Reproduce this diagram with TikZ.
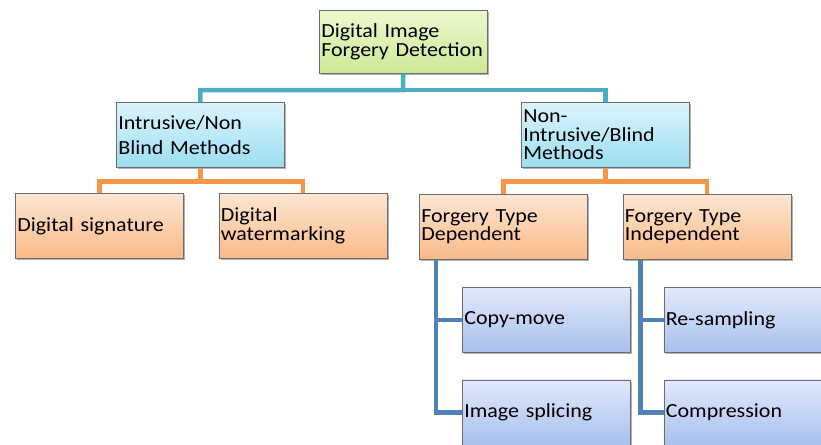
\documentclass[tikz,border=0pt]{standalone}
\usepackage{fontspec}
\setmainfont{Carlito}[FakeStretch=1.1]
\usepackage{xcolor}
\usepackage{tikz}
\usetikzlibrary{positioning, shadows}

\definecolor{aqualine}{HTML}{4BACC6}
\definecolor{orangeline}{HTML}{F79646}
\definecolor{blueline}{HTML}{4F81BD}

\begin{document}
\begin{tikzpicture}[
    x=1pt, y=-1pt,
    font=\fontsize{20}{18.5}\selectfont,
    box/.style={
        draw=gray!85!black,
        line width=0.6pt,
        minimum height=65pt,
        text width=164pt,
        inner xsep=2pt,
        inner ysep=0pt,
        align=left,
        anchor=north west,
        drop shadow={shadow xshift=2pt, shadow yshift=-2pt, opacity=0.3, fill=black}
    },
    rootbox/.style={box, minimum height=63pt,
        top color={rgb,255:red,238;green,248;blue,206}, bottom color={rgb,255:red,204;green,232;blue,152}},
    aquabox/.style={box,
        top color={rgb,255:red,220;green,244;blue,252}, bottom color={rgb,255:red,156;green,222;blue,242}},
    peachbox/.style={box,
        top color={rgb,255:red,253;green,230;blue,210}, bottom color={rgb,255:red,249;green,186;blue,136}},
    lilacbox/.style={box,
        top color={rgb,255:red,226;green,233;blue,251}, bottom color={rgb,255:red,168;green,192;blue,238}},
    aqualink/.style={draw=aqualine, line width=4.5pt},
    orangelink/.style={draw=orangeline, line width=4.5pt},
    bluelink/.style={draw=blueline, line width=4.5pt}
]
\useasboundingbox (0,0) rectangle (821,444);
\clip (0,0) rectangle (821,444);

% connectors
\coordinate (topbus) at (403,90);

% root
\node[rootbox] (detect) at (319,10) {Digital Image\\Forgery Detection};

% second level
\node[aquabox, font=\fontsize{20}{25}\selectfont] (intr) at (116,102) {Intrusive/Non\\Blind Methods};
\node[aquabox] (blind) at (521,102) {Non-\\Intrusive/Blind\\Methods};

% intrusive methods
\node[peachbox] (dsig) at (15,193) {Digital signature};
\node[peachbox, right=35pt of dsig] (dwm) {Digital\\watermarking};

% blind methods
\node[peachbox] (dep) at (419,194) {Forgery Type\\Dependent};
\node[peachbox, right=35pt of dep] (indep) {Forgery Type\\Independent};

\node[lilacbox] (copy) at (462,287) {Copy-move};
\node[lilacbox, below=27pt of copy] (splice) {Image splicing};
\node[lilacbox, right=33pt of copy] (resamp) {Re-sampling};
\node[lilacbox, right=33pt of splice] (compr) {Compression};

\draw[aqualink] (detect.south) -- (topbus) -| (intr.north);
\draw[aqualink] (topbus) -| (blind.north);

\draw[orangelink] (intr.south) -- ++(0,14) -| (dsig.north);
\draw[orangelink] (intr.south) -- ++(0,14) -| (dwm.north);
\draw[orangelink] (blind.south) -- ++(0,14) -| (dep.north);
\draw[orangelink] (blind.south) -- ++(0,14) -| (indep.north);

\coordinate (depstem) at ([xshift=17pt]dep.south west);
\coordinate (indepstem) at ([xshift=18pt]indep.south west);
\draw[bluelink] (depstem) |- (copy.west);
\draw[bluelink] (depstem) |- (splice.west);
\draw[bluelink] (indepstem) |- (resamp.west);
\draw[bluelink] (indepstem) |- (compr.west);

\end{tikzpicture}
\end{document}
